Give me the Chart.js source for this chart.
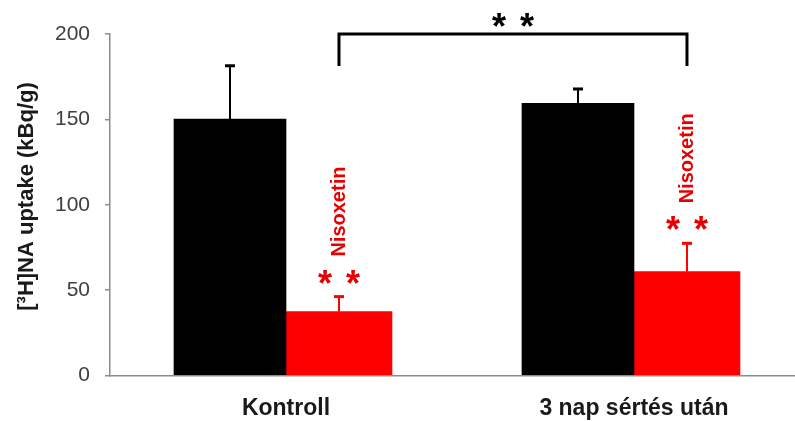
<!DOCTYPE html>
<html>
<head>
<meta charset="utf-8">
<script src="https://cdn.jsdelivr.net/npm/chart.js@4/dist/chart.umd.min.js"></script>
<style>
  html, body { margin: 0; padding: 0; background: #ffffff; }
  #wrap { width: 795px; height: 421px; position: relative; }
</style>
</head>
<body>
<div id="wrap"><canvas id="chart" width="795" height="421"></canvas></div>
<script>
// Groups and measured [3H]NA uptake (mean and SEM, kBq/g)
const categories = ['Kontroll', '3 nap sértés után'];
const controlValues = [150.2, 159.4];
const controlErrors = [31.2, 8.4];
const nisoxetinValues = [37.4, 60.8];
const nisoxetinErrors = [8.8, 16.6];
const yTicks = [0, 50, 100, 150, 200];
const yTitle = '[³H]NA uptake (kBq/g)';
const drugLabel = 'Nisoxetin';
const sigMark = '*';

const FONT = '"Liberation Sans", Arial, Helvetica, sans-serif';
const RED = '#ff0000';
const RED_TEXT = '#e60000';
const AXIS_GREY = '#8c8c8c';

function drawMark(ctx, cx, cy, size, color) {
  ctx.save();
  ctx.font = 'bold ' + size + 'px ' + FONT;
  ctx.fillStyle = color;
  ctx.textAlign = 'center';
  ctx.textBaseline = 'alphabetic';
  const m = ctx.measureText(sigMark);
  const mid = (m.actualBoundingBoxAscent - m.actualBoundingBoxDescent) / 2;
  ctx.fillText(sigMark, cx, cy + mid);
  ctx.restore();
}

function drawPair(ctx, cx, cy, color) {
  drawMark(ctx, cx - 14, cy, 36, color);
  drawMark(ctx, cx + 14, cy, 36, color);
}

// Upward error bars with caps
const errorBars = {
  id: 'errorBars',
  afterDatasetsDraw(chart) {
    const ctx = chart.ctx;
    const y = chart.scales.y;
    chart.data.datasets.forEach((ds, di) => {
      const meta = chart.getDatasetMeta(di);
      meta.data.forEach((bar, i) => {
        const v = ds.data[i].y;
        const top = y.getPixelForValue(v + ds.errors[i]);
        const base = y.getPixelForValue(v);
        ctx.save();
        ctx.strokeStyle = ds.errorColor;
        ctx.lineWidth = 2;
        ctx.beginPath();
        ctx.moveTo(bar.x, base);
        ctx.lineTo(bar.x, top);
        ctx.stroke();
        ctx.lineWidth = 3;
        ctx.beginPath();
        ctx.moveTo(bar.x - 5, top);
        ctx.lineTo(bar.x + 5, top);
        ctx.stroke();
        ctx.restore();
      });
    });
  }
};

// Significance marks, drug labels and comparison bracket
const annotations = {
  id: 'annotations',
  afterDraw(chart) {
    const ctx = chart.ctx;
    const y = chart.scales.y;
    const drugDs = chart.data.datasets[1];
    const drugMeta = chart.getDatasetMeta(1);
    drugMeta.data.forEach((bar, i) => {
      const top = y.getPixelForValue(drugDs.data[i].y + drugDs.errors[i]);
      drawPair(ctx, bar.x, top - 20, RED_TEXT);
      ctx.save();
      ctx.translate(bar.x, top - 40);
      ctx.rotate(-Math.PI / 2);
      ctx.font = 'bold 20px ' + FONT;
      ctx.fillStyle = RED_TEXT;
      ctx.textAlign = 'left';
      ctx.textBaseline = 'middle';
      ctx.fillText(drugLabel, 0, 1);
      ctx.restore();
    });

    // bracket between the two Nisoxetin groups
    const x1 = drugMeta.data[0].x;
    const x2 = drugMeta.data[1].x;
    const yTop = y.getPixelForValue(y.max);
    ctx.save();
    ctx.strokeStyle = '#000000';
    ctx.lineWidth = 3;
    ctx.lineJoin = 'miter';
    ctx.beginPath();
    ctx.moveTo(x1, yTop + 32);
    ctx.lineTo(x1, yTop);
    ctx.lineTo(x2, yTop);
    ctx.lineTo(x2, yTop + 32);
    ctx.stroke();
    ctx.restore();
    drawPair(ctx, (x1 + x2) / 2, yTop - 14, '#000000');

    // y axis title
    ctx.save();
    ctx.translate(27, 196.5);
    ctx.rotate(-Math.PI / 2);
    ctx.font = 'bold 22px ' + FONT;
    ctx.fillStyle = '#1a1a1a';
    ctx.textAlign = 'center';
    ctx.textBaseline = 'middle';
    ctx.fillText(yTitle, 0, 0);
    ctx.restore();
  }
};

const toPoints = vals => vals.map((v, i) => ({ x: i + 1, y: v }));

new Chart(document.getElementById('chart'), {
  type: 'bar',
  data: {
    datasets: [
      {
        label: 'Kontroll',
        data: toPoints(controlValues),
        errors: controlErrors,
        errorColor: '#000000',
        backgroundColor: '#000000',
        barThickness: 112
      },
      {
        label: drugLabel,
        data: toPoints(nisoxetinValues),
        errors: nisoxetinErrors,
        errorColor: RED,
        backgroundColor: RED,
        barThickness: 106
      }
    ]
  },
  options: {
    responsive: false,
    animation: false,
    layout: { padding: { top: 34, left: 0, right: 0, bottom: 0 } },
    plugins: { legend: { display: false }, tooltip: { enabled: false } },
    scales: {
      x: {
        type: 'linear',
        offset: false,
        bounds: 'data',
        min: 0.4943,
        max: 2.4627,
        afterBuildTicks: s => { s.ticks = categories.map((c, i) => ({ value: i + 1 })); },
        afterFit: s => { s.height = 45.5; },
        ticks: {
          autoSkip: false,
          maxRotation: 0,
          padding: 19,
          color: '#1a1a1a',
          font: { family: FONT, size: 23, weight: 'bold' },
          callback: (v, i) => categories[i]
        },
        grid: { display: true, offset: false, drawOnChartArea: false, drawTicks: false },
        border: { display: true, color: AXIS_GREY, width: 1.5 }
      },
      y: {
        min: 0,
        max: 200,
        afterBuildTicks: s => { s.ticks = yTicks.map(v => ({ value: v })); },
        afterFit: s => { s.width = 110; },
        ticks: {
          padding: 15,
          color: '#404040',
          font: { family: FONT, size: 21 }
        },
        grid: { display: true, drawOnChartArea: false, drawTicks: true, tickLength: 5, color: AXIS_GREY, lineWidth: 1.5 },
        border: { display: true, color: AXIS_GREY, width: 1.5 }
      }
    }
  },
  plugins: [errorBars, annotations]
});
</script>
</body>
</html>
